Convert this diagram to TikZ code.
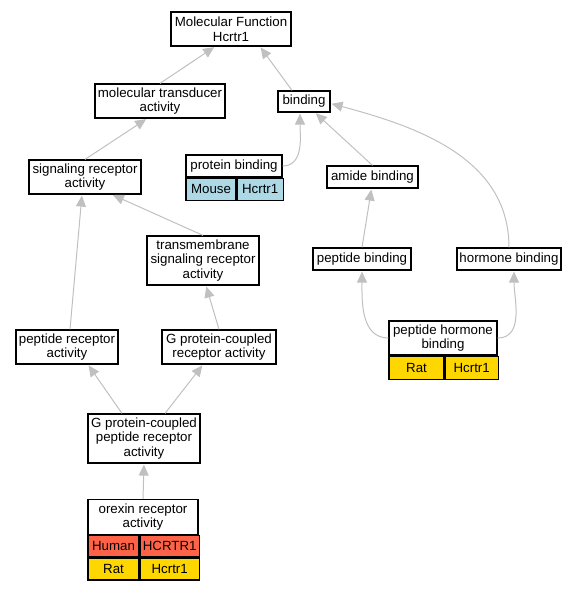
\documentclass[tikz,border=0pt]{standalone}
\usepackage{fontspec}
\setmainfont{Liberation Sans}
\usetikzlibrary{arrows.meta}
\definecolor{human}{HTML}{FF6347}
\definecolor{rat}{HTML}{FFD700}
\definecolor{mouse}{HTML}{ADD8E6}
\definecolor{isagray}{HTML}{C0C0C0}
\tikzset{
  term/.style={draw,line width=1.2pt,fill=white,align=center,inner sep=0pt,font=\fontsize{13.3}{14.5}\selectfont},
  cell/.style={term,minimum height=22pt,anchor=north west},
  isa/.style={draw=isagray,line width=1pt,shorten >=1pt,-{Triangle[length=11pt,width=10pt]}}
}
\begin{document}
\begin{tikzpicture}[x=1pt,y=-1pt]
\useasboundingbox (0,0) rectangle (577,589);
\node[term,minimum width=120,minimum height=34] (mf) at (231,29) {Molecular Function\\Hcrtr1};
\node[term,minimum width=130,minimum height=34] (mt) at (160,101) {molecular transducer\\activity};
\node[term,minimum width=52,minimum height=21] (bind) at (304,101.5) {binding};
\node[term,minimum width=112,minimum height=34] (sr) at (85,177) {signaling receptor\\activity};
\node[term,minimum width=96,minimum height=22] (pb) at (234,166) {protein binding};
\node[cell,minimum width=50,fill=mouse] (pbm) at (pb.south west) {Mouse};
\node[cell,minimum width=46,fill=mouse] (pbg) at (pbm.north east) {Hcrtr1};
\node[term,minimum width=91,minimum height=22] (am) at (372.5,177) {amide binding};
\node[term,minimum width=112,minimum height=49] (tm) at (203,260.5) {transmembrane\\signaling receptor\\activity};
\node[term,minimum width=98,minimum height=22] (pep) at (362,259) {peptide binding};
\node[term,minimum width=104,minimum height=22] (hb) at (509,259) {hormone binding};
\node[term,minimum width=102,minimum height=34] (pr) at (67,347) {peptide receptor\\activity};
\node[term,minimum width=114,minimum height=34] (gr) at (219,347) {G protein-coupled\\receptor activity};
\node[term,minimum width=108,minimum height=34] (phb) at (443,338) {peptide hormone\\binding};
\node[cell,minimum width=55,minimum height=23,fill=rat] (phbr) at (phb.south west) {Rat};
\node[cell,minimum width=53,minimum height=23,fill=rat] (phbg) at (phbr.north east) {Hcrtr1};
\node[term,minimum width=112,minimum height=49] (gp) at (144,438.5) {G protein-coupled\\peptide receptor\\activity};
\node[term,minimum width=110,minimum height=35] (or) at (143,517) {orexin receptor\\activity};
\node[cell,minimum width=51,minimum height=21,fill=human] (orh) at (or.south west) {Human};
\node[cell,minimum width=59,minimum height=21,fill=human] (orhg) at (orh.north east) {HCRTR1};
\node[cell,minimum width=51,fill=rat] (orr) at (orh.south west) {Rat};
\node[cell,minimum width=59,fill=rat] (orrg) at (orr.north east) {Hcrtr1};

\draw[isa] (mt.north) -- ([xshift=-16pt]mf.south);
\draw[isa] ([xshift=-12pt]bind.north) -- ([xshift=29pt]mf.south);
\draw[isa] (sr.north) -- ([xshift=-13pt]mt.south);
\draw[isa] (pb.east) to[out=0,in=-90] ([xshift=-4pt]bind.south);
\draw[isa] (am.north) -- ([xshift=11pt]bind.south);
\draw[isa] (hb.north) to[out=90,in=-15] ([yshift=-2pt]bind.east);
\draw[isa] (tm.north) -- ([xshift=27pt]sr.south);
\draw[isa] (pep.north) -- ([xshift=-1pt]am.south);
\draw[isa] ([xshift=3pt]pr.north) -- ([xshift=-3pt]sr.south);
\draw[isa] (gr.north) -- ([xshift=3pt]tm.south);
\draw[isa] (phb.west) to[out=180,in=-90] (pep.south);
\draw[isa] (phb.east) to[out=0,in=-90] ([xshift=5pt]hb.south);
\draw[isa] ([xshift=-22pt]gp.north) -- ([xshift=21pt]pr.south);
\draw[isa] ([xshift=21pt]gp.north) -- ([xshift=-16pt]gr.south);
\draw[isa] (or.north) -- (gp.south);
\end{tikzpicture}
\end{document}
